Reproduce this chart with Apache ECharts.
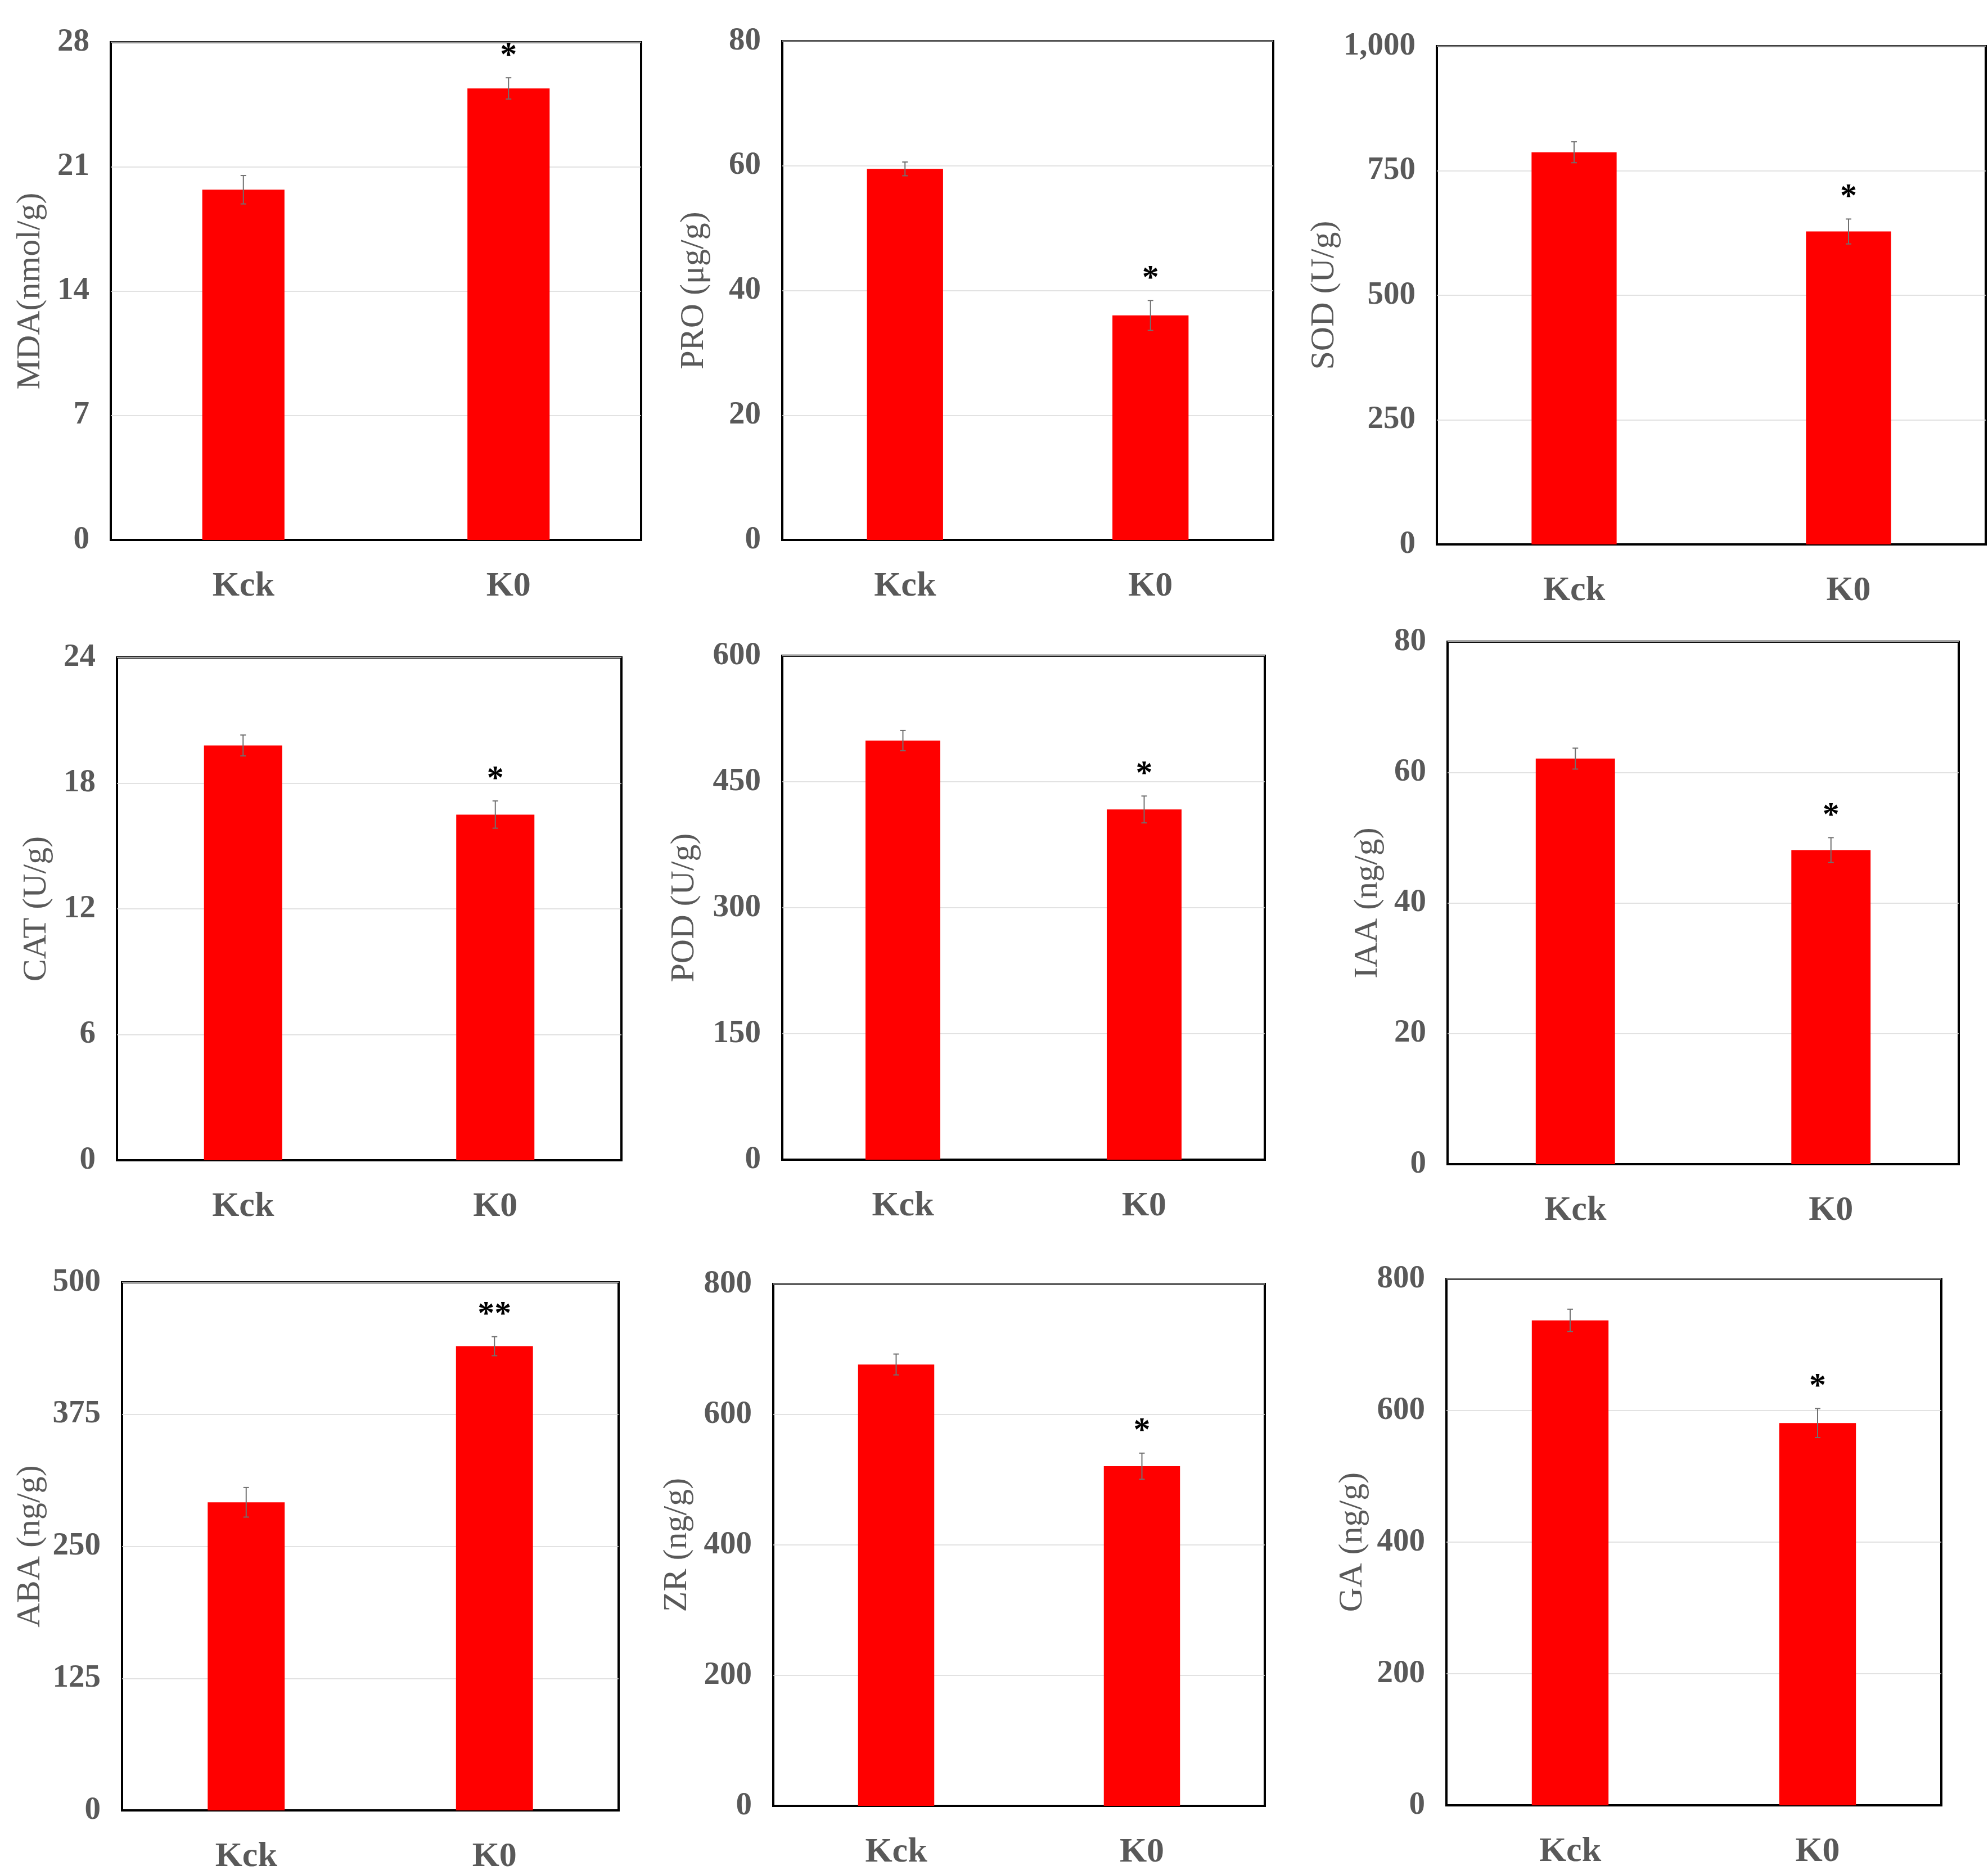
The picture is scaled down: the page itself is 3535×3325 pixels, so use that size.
<!DOCTYPE html>
<html lang="en">

<head>
    <meta charset="UTF-8" />
    <title>Physiological indices</title>
    <script src="https://cdn.jsdelivr.net/npm/echarts@6.0.0/dist/echarts.min.js"></script>
    <style>
        body { margin: 0; background: #fff; }
    </style>
</head>

<body>
    <div id="main" style="width: 3535px; height: 3325px"></div>
    <script type="text/javascript">
        // data (9 panels, row by row)
        const categories = ["Kck", "K0"];
        const axisNames = ["MDA(nmol/g)", "PRO (μg/g)", "SOD (U/g)", "CAT (U/g)", "POD (U/g)",
            "IAA (ng/g)", "ABA (ng/g)", "ZR (ng/g)", "GA (ng/g)"];
        const means = [
            [19.7, 25.4], [59.5, 36.0], [787, 628],
            [19.8, 16.5], [499, 417], [62.1, 48.1],
            [291.7, 439.5], [676.6, 520.7], [737, 581]
        ];
        const errors = [
            [0.8, 0.6], [1.1, 2.4], [21, 25],
            [0.5, 0.65], [12, 16], [1.6, 1.9],
            [14, 9], [16, 20], [17, 22]
        ];
        const marks = [
            ["", "*"], ["", "*"], ["", "*"],
            ["", "*"], ["", "*"], ["", "*"],
            ["", "**"], ["", "*"], ["", "*"]
        ];
        const axisMax = [28, 80, 1000, 24, 600, 80, 500, 800, 800];
        const axisStep = [7, 20, 250, 6, 150, 20, 125, 200, 200];

        // panel boxes in page pixels: left, top, width, height, y-name gap
        const boxes = [
            [197, 75, 943, 885, 113], [1391, 73, 873, 887, 127], [2555, 82, 976, 886, 166],
            [208, 1169, 897, 894, 113], [1391, 1166, 858, 896, 144], [2574, 1141, 909, 929, 112],
            [217, 2280, 883, 939, 133], [1375, 2283, 874, 928, 141], [2572, 2274, 880, 936, 137]
        ];

        const serif = '"Liberation Serif", "Times New Roman", serif';
        const grey = "#595959";

        let grids = [], xAxes = [], yAxes = [], series = [];
        boxes.forEach(function (b, i) {
            grids.push({
                left: b[0], top: b[1], width: b[2], height: b[3],
                containLabel: false, outerBoundsMode: "none",
                show: true, borderColor: "#000", borderWidth: 4, backgroundColor: "transparent"
            });
            xAxes.push({
                type: "category", gridIndex: i, data: categories,
                axisLine: { show: true, lineStyle: { color: "#000", width: 4 } },
                axisTick: { show: false },
                axisLabel: { margin: 52, color: grey, fontFamily: serif, fontWeight: "bold", fontSize: 62 }
            });
            yAxes.push({
                type: "value", gridIndex: i, min: 0, max: axisMax[i], interval: axisStep[i],
                name: axisNames[i], nameLocation: "middle", nameGap: b[4],
                nameTextStyle: { color: grey, fontFamily: serif, fontSize: 60 },
                axisLine: { show: false }, axisTick: { show: false },
                splitLine: { lineStyle: { color: "#d9d9d9", width: 1.5 } },
                axisLabel: {
                    margin: 38, color: grey, fontFamily: serif, fontWeight: "bold", fontSize: 57,
                    formatter: function (v) { return v.toLocaleString("en-US"); }
                }
            });
            series.push({
                type: "bar", xAxisIndex: i, yAxisIndex: i, data: means[i],
                barWidth: "31%", itemStyle: { color: "#ff0000" }, silent: true
            });
            // error bars and significance stars
            series.push({
                type: "custom", xAxisIndex: i, yAxisIndex: i, z: 5, silent: true,
                data: means[i].map(function (m, k) { return [k, m, errors[i][k]]; }),
                encode: { x: 0, y: 1 },
                renderItem: function (params, api) {
                    const x = api.value(0), y = api.value(1), e = api.value(2);
                    const top = api.coord([x, y + e]);
                    const bot = api.coord([x, y - e]);
                    const st = { stroke: "#707070", lineWidth: 2 };
                    let children = [
                        { type: "line", shape: { x1: top[0], y1: top[1], x2: bot[0], y2: bot[1] }, style: st },
                        { type: "line", shape: { x1: top[0] - 5, y1: top[1], x2: top[0] + 5, y2: top[1] }, style: st },
                        { type: "line", shape: { x1: bot[0] - 5, y1: bot[1], x2: bot[0] + 5, y2: bot[1] }, style: st }
                    ];
                    const mark = marks[i][params.dataIndex];
                    if (mark) {
                        children.push({
                            type: "text",
                            style: {
                                text: mark, x: top[0], y: top[1] - 38, align: "center", verticalAlign: "middle",
                                font: "bold 60px " + serif, fill: "#000"
                            }
                        });
                    }
                    return { type: "group", children: children };
                }
            });
        });

        let myChart = echarts.init(document.getElementById("main"));
        myChart.setOption({
            animation: false,
            backgroundColor: "#fff",
            grid: grids,
            xAxis: xAxes,
            yAxis: yAxes,
            series: series
        });
    </script>
</body>

</html>
